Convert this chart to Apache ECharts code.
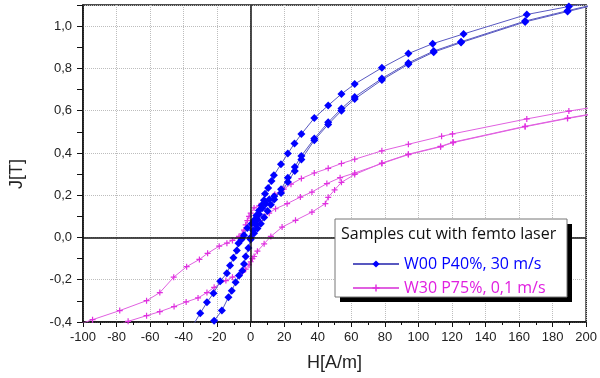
<!DOCTYPE html>
<html>
<head>
<meta charset="utf-8">
<script src="https://cdn.jsdelivr.net/npm/echarts@6/dist/echarts.min.js"></script>
<style>
html,body{margin:0;padding:0;background:#fff;}
#chart{width:600px;height:378px;}
</style>
</head>
<body>
<div id="chart"></div>
<script>
// ---- data (H in A/m, J in T) ----
var seriesNames = ['W00 P40%, 30 m/s', 'W30 P75%, 0,1 m/s'];
var legendTitle = 'Samples cut with femto laser';
var xTitle = 'H[A/m]';
var yTitle = 'J[T]';

// W00 P40%, 30 m/s : descending branch
var w00DescH = [205, 189.7, 164.6, 126.9, 108.5, 94.0, 78.2, 62.0, 54.1, 46.2, 37.9, 30.2, 26.1, 22.1, 18.0, 13.8, 12.4, 10.4, 8.5, 7.9, 6.5, 4.9, 3.3, 2.0, 0.5, -2.0, -4.0, -5.5, -7.3, -8.3, -10.3, -12.3, -14.2, -18.2, -22.2, -26.1, -30.1, -36.0];
var w00DescJ = [1.115, 1.093, 1.055, 0.963, 0.917, 0.870, 0.803, 0.726, 0.679, 0.625, 0.565, 0.489, 0.445, 0.397, 0.346, 0.294, 0.267, 0.234, 0.207, 0.176, 0.152, 0.128, 0.104, 0.081, 0.065, 0.045, 0.010, -0.010, -0.027, -0.062, -0.096, -0.133, -0.169, -0.207, -0.264, -0.307, -0.359, -0.436];
// ascending branch
var w00AscH = [-26.0, -21.8, -17.2, -13.3, -11.3, -9.0, -7.0, -5.0, -4.0, -3.0, -1.4, 0.0, 1.4, 3.0, 4.0, 5.0, 7.0, 9.0, 11.0, 14.0, 18.1, 22.1, 26.3, 30.2, 37.9, 46.2, 54.1, 62.0, 78.2, 94.0, 109.1, 125.4, 163.6, 188.9, 205];
var w00AscJ = [-0.440, -0.394, -0.346, -0.283, -0.252, -0.212, -0.180, -0.157, -0.125, -0.090, -0.050, -0.010, 0.033, 0.060, 0.085, 0.110, 0.140, 0.160, 0.180, 0.195, 0.210, 0.262, 0.315, 0.369, 0.460, 0.535, 0.600, 0.655, 0.745, 0.820, 0.877, 0.922, 1.020, 1.069, 1.100];
// initial curve
var w00InitH = [0, 2, 4, 6, 8, 10, 12, 14, 18.1, 22.1, 26.3, 30.2, 37.9, 46.2, 54.1, 62.0, 78.2, 94.0, 109.1, 125.4, 163.6, 188.9, 205];
var w00InitJ = [0, 0.020, 0.042, 0.065, 0.095, 0.125, 0.155, 0.180, 0.228, 0.283, 0.334, 0.386, 0.468, 0.545, 0.610, 0.665, 0.752, 0.826, 0.882, 0.926, 1.024, 1.073, 1.103];

// W30 P75%, 0,1 m/s : descending branch
var w30DescH = [205, 189.7, 164.6, 120.3, 113.8, 94.0, 78.2, 62.0, 54.1, 46.2, 37.9, 30.2, 24.0, 19.7, 14.4, 8.9, 5.0, 2.0, 0.0, -1.0, -2.0, -3.0, -4.0, -5.0, -7.0, -10.9, -14.2, -18.8, -25.7, -30.6, -38.2, -45.9, -54.2, -62.1, -78.1, -94.3, -110];
var w30DescJ = [0.617, 0.598, 0.561, 0.490, 0.479, 0.441, 0.410, 0.370, 0.350, 0.327, 0.305, 0.279, 0.252, 0.229, 0.205, 0.170, 0.150, 0.140, 0.115, 0.100, 0.080, 0.060, 0.035, 0.017, 0.005, -0.014, -0.027, -0.041, -0.075, -0.104, -0.138, -0.188, -0.261, -0.299, -0.346, -0.389, -0.432];
// ascending branch
var w30AscH = [-85.0, -73.1, -62.1, -54.2, -45.7, -38.5, -31.4, -26.1, -21.8, -14.8, -10.9, -5.0, -3.0, -1.0, 0.0, 1.0, 2.0, 4.0, 8.0, 12.0, 18.7, 26.7, 36.5, 44.5, 46.2, 50.0, 54.1, 62.0, 78.2, 94.0, 113.2, 120.7, 163.6, 188.9, 205];
var w30AscJ = [-0.430, -0.397, -0.370, -0.351, -0.327, -0.305, -0.286, -0.261, -0.236, -0.204, -0.188, -0.165, -0.150, -0.130, -0.115, -0.100, -0.090, -0.065, -0.030, 0.005, 0.049, 0.081, 0.120, 0.160, 0.190, 0.225, 0.261, 0.298, 0.352, 0.394, 0.431, 0.451, 0.526, 0.565, 0.587];
// initial curve
var w30InitH = [0, 1, 2, 3, 5, 8, 11, 14.8, 21.7, 29.6, 36.5, 45.4, 53.3, 62.0, 78.2, 94.0, 113.2, 120.7, 163.6, 188.9, 205];
var w30InitJ = [0, 0.020, 0.040, 0.060, 0.080, 0.100, 0.115, 0.136, 0.160, 0.191, 0.215, 0.255, 0.283, 0.305, 0.350, 0.392, 0.429, 0.449, 0.524, 0.563, 0.585];

var xMin = -100, xMax = 200, xStep = 20;
var yMin = -0.4, yMax = 1.1, yStep = 0.2;

function zip(h, j) { return h.map(function (v, i) { return [v, j[i]]; }); }

var blueLine = '#5858c0', blueMark = '#0000ff';
var pinkLine = '#e060e0', pinkMark = '#e030e0';
var plusPath = 'path://M4,0H6V4H10V6H6V10H4V6H0V4H4Z';

function blueSeries(h, j) {
  return {
    name: seriesNames[0], type: 'line', data: zip(h, j),
    symbol: 'diamond', symbolSize: 8,
    itemStyle: { color: blueMark },
    lineStyle: { color: blueLine, width: 1 },
    clip: true, z: 3
  };
}
function pinkSeries(h, j) {
  return {
    name: seriesNames[1], type: 'line', data: zip(h, j),
    symbol: plusPath, symbolSize: 6,
    itemStyle: { color: pinkMark },
    lineStyle: { color: pinkLine, width: 1 },
    clip: true, z: 2
  };
}

var series = [
  blueSeries(w00DescH, w00DescJ),
  blueSeries(w00AscH, w00AscJ),
  blueSeries(w00InitH, w00InitJ),
  pinkSeries(w30DescH, w30DescJ),
  pinkSeries(w30AscH, w30AscJ),
  pinkSeries(w30InitH, w30InitJ)
];
series[0].markLine = {
  silent: true, symbol: 'none', label: { show: false }, animation: false,
  lineStyle: { color: '#111', width: 1.5, type: 'solid' },
  data: [{ xAxis: 0 }, { yAxis: 0 }]
};

var chart = echarts.init(document.getElementById('chart'), null, { renderer: 'canvas' });
chart.setOption({
  animation: false,
  backgroundColor: '#fff',
  grid: { left: 83, right: 11, top: 5, bottom: 56, show: true, borderColor: '#111', borderWidth: 1.5, backgroundColor: 'transparent' },
  xAxis: {
    type: 'value', min: xMin, max: xMax, interval: xStep,
    axisLine: { show: true, onZero: false, lineStyle: { color: '#111', width: 1.5 } },
    axisTick: { show: true, inside: false, length: 5, lineStyle: { color: '#111' } },
    minorTick: { show: true, splitNumber: 2, length: 3, lineStyle: { color: '#111' } },
    splitLine: { show: true, lineStyle: { color: '#bdbdbd', type: 'dotted', width: 1 } },
    axisLabel: { color: '#222', fontSize: 13, fontFamily: 'Liberation Sans, Arial', margin: 9 },
    name: xTitle, nameLocation: 'middle', nameGap: 32,
    nameTextStyle: { color: '#222', fontSize: 18, fontFamily: 'Liberation Sans, Arial' }
  },
  yAxis: {
    type: 'value', min: yMin, max: yMax, interval: yStep,
    axisLine: { show: true, onZero: false, lineStyle: { color: '#111', width: 1.5 } },
    axisTick: { show: true, inside: false, length: 6, lineStyle: { color: '#111' } },
    minorTick: { show: true, splitNumber: 2, length: 6, lineStyle: { color: '#111' } },
    splitLine: { show: true, lineStyle: { color: '#bdbdbd', type: 'dotted', width: 1 } },
    axisLabel: {
      color: '#222', fontSize: 13, fontFamily: 'Liberation Sans, Arial', margin: 11,
      formatter: function (v) { if (v > 1.05) return ''; return v.toFixed(1).replace('.', ','); }
    }
  },
  legend: {
    orient: 'vertical', left: 347, top: 251, z: 60,
    itemWidth: 46, itemHeight: 9, itemGap: 8,
    textStyle: { fontSize: 16, lineHeight: 16, fontFamily: 'Open Sans' },
    data: [
      { name: seriesNames[0], textStyle: { color: '#0000ff' } },
      { name: seriesNames[1], textStyle: { color: '#e020e0' } }
    ],
    selectedMode: false
  },
  graphic: [
    { type: 'rect', z: 50, shape: { x: 340, y: 224, width: 232, height: 78 }, style: { fill: '#000' } },
    { type: 'rect', z: 51, shape: { x: 335, y: 219, width: 232, height: 78 }, style: { fill: '#fff', stroke: '#777', lineWidth: 1 } },
    { type: 'text', z: 52, x: 341, y: 234, style: { text: legendTitle, fill: '#111', font: '16px "Open Sans"', verticalAlign: 'middle', align: 'left' } },
    { type: 'text', z: 52, x: 17, y: 174, rotation: Math.PI / 2, style: { text: yTitle, fill: '#222', font: '18px "Liberation Sans"', verticalAlign: 'middle', align: 'center' } }
  ],
  series: series
});
</script>
</body>
</html>
